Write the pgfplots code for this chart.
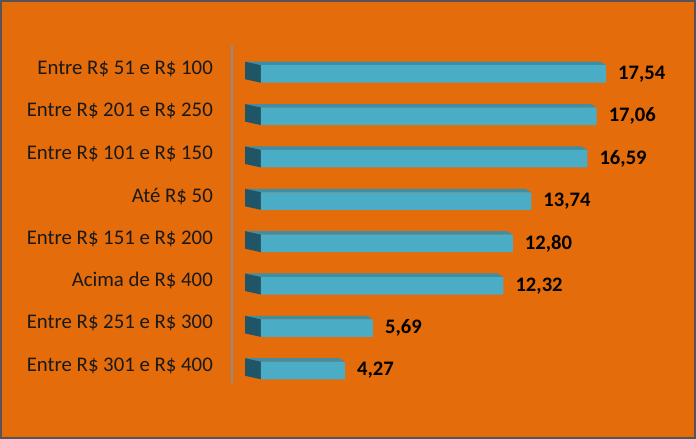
\documentclass[border=0pt]{standalone}
\usepackage{pgfplots}
\pgfplotsset{compat=1.18}
\usepackage{fontspec}
\setmainfont{Carlito}
\definecolor{bg}{HTML}{E46C0A}
\definecolor{frontf}{HTML}{4BACC6}
\definecolor{topf}{HTML}{3D8FA7}
\definecolor{sidef}{HTML}{1F5566}
\definecolor{framec}{HTML}{555555}
\definecolor{axisgray}{HTML}{8C8C8C}

% #1 = category position, #2 = value : draws the top and left faces of a 3D bar
\newcommand\barfaces[2]{%
  \pgfmathsetmacro\yF{#1+0.207}%
  \pgfmathsetmacro\yB{#1+0.290}%
  \pgfmathsetmacro\yL{#1-0.207}%
  \pgfmathsetmacro\yLB{#1-0.124}%
  \pgfmathsetmacro\vB{#2-0.305}%
  \addplot[fill=topf, draw=none] coordinates {(0,\yF) (#2,\yF) (\vB,\yB) (-0.813,\yB)} -- cycle;
  \addplot[fill=sidef, draw=none] coordinates {(0,\yL) (0,\yF) (-0.813,\yB) (-0.813,\yLB)} -- cycle;
}

\begin{document}
\begin{tikzpicture}
\useasboundingbox (0,0) rectangle (696pt,439pt);
\fill[bg] (0,0) rectangle (696pt,439pt);
\draw[framec, line width=2pt] (1pt,1pt) rectangle (695pt,438pt);
\begin{axis}[
  at={(232pt,56pt)}, anchor=south west,
  scale only axis,
  width=448pt, height=338pt,
  xmin=-1.474, xmax=21.30,
  ymin=-0.295, ymax=7.684,
  hide x axis,
  axis y line*=left,
  y axis line style={draw=axisgray, line width=1.8pt},
  ytick={0,...,7},
  yticklabels={Entre R\$ 301 e R\$ 400, Entre R\$ 251 e R\$ 300, Acima de R\$ 400, Entre R\$ 151 e R\$ 200, Até R\$ 50, Entre R\$ 101 e R\$ 150, Entre R\$ 201 e R\$ 250, Entre R\$ 51 e R\$ 100},
  ytick style={draw=none},
  major tick length=0pt,
  yticklabel style={anchor=east, inner sep=0pt, xshift=-19pt, yshift=5pt, font=\fontsize{20.8}{25}\selectfont, text=black!90},
  clip=false,
]
\barfaces{7}{17.54}
\barfaces{6}{17.06}
\barfaces{5}{16.59}
\barfaces{4}{13.74}
\barfaces{3}{12.80}
\barfaces{2}{12.32}
\barfaces{1}{5.69}
\barfaces{0}{4.27}
\addplot[xbar, bar width=17.5pt, fill=frontf, draw=none,
  point meta=explicit symbolic,
  nodes near coords={\pgfplotspointmeta},
  nodes near coords style={anchor=west, inner sep=0pt, xshift=12pt, font=\bfseries\fontsize{20.6}{25}\selectfont, text=black}]
  coordinates {
  (17.54,7) [17,54]
  (17.06,6) [17,06]
  (16.59,5) [16,59]
  (13.74,4) [13,74]
  (12.80,3) [12,80]
  (12.32,2) [12,32]
  (5.69,1) [5,69]
  (4.27,0) [4,27]
  };
\end{axis}
\end{tikzpicture}
\end{document}
